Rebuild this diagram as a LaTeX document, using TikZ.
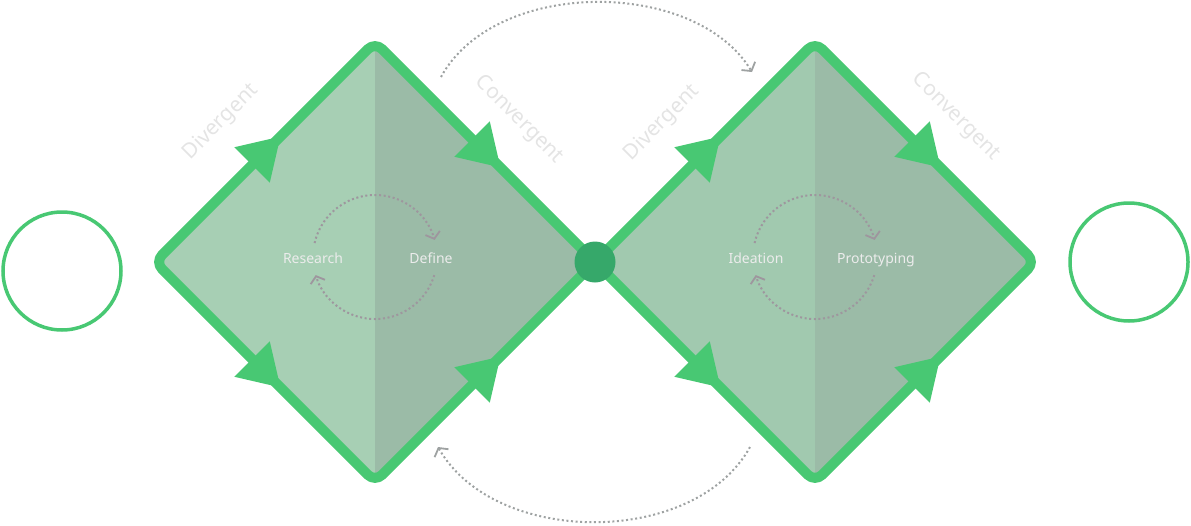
\documentclass[tikz,border=0pt]{standalone}
\usepackage{fontspec}
\setmainfont{Noto Sans}
\usetikzlibrary{calc,arrows.meta}
\definecolor{gline}{RGB}{72,200,115}
\definecolor{gdot}{RGB}{54,168,106}
\definecolor{lfill}{RGB}{167,207,180}
\definecolor{lfillb}{RGB}{161,201,175}
\definecolor{rfill}{RGB}{155,187,167}
\definecolor{dotgray}{RGB}{158,162,162}
\definecolor{cycgray}{RGB}{158,150,158}
\definecolor{lbl}{RGB}{236,236,236}
\definecolor{phasegray}{RGB}{228,228,228}
\begin{document}
\begin{tikzpicture}[x=1pt,y=-1pt,
  diamondline/.style={draw=gline,line width=10pt,rounded corners=10pt,line join=round},
  garrow/.pic={\fill[gline] (0,0) -- (-40,25) -- (-40,-25) -- cycle;},
  phase/.style={text=phasegray,font=\fontsize{21pt}{24pt}\selectfont,inner sep=0pt},
  lbl/.style={text=lbl,font=\fontsize{14pt}{16pt}\selectfont,inner sep=0pt,anchor=base},
  endcircle/.style={draw=gline,line width=3.5pt,circle,minimum size=118pt,inner sep=0pt,
    text=white,font=\bfseries\fontsize{18pt}{28pt}\selectfont,align=center},
  cyc/.style={draw=cycgray,line width=2pt,dash pattern=on 2pt off 2.6pt,
    -{Straight Barb[length=6pt,width=15pt,line width=1.8pt]}},
  bigarc/.style={draw=dotgray,line width=2pt,dash pattern=on 2pt off 2.6pt,
    -{Straight Barb[length=6pt,width=16pt,line width=1.8pt]}}]
\useasboundingbox (0,0) rectangle (1191,525);
% corner coordinates
\coordinate (L1) at (155,262);
\coordinate (T1) at (375,42);
\coordinate (R1) at (595,262);
\coordinate (B1) at (375,482);
\coordinate (T2) at (815,42);
\coordinate (R2) at (1035,262);
\coordinate (B2) at (815,482);
% fills
\begin{scope}
  \clip[rounded corners=10pt] (L1) -- (T1) -- (R1) -- (B1) -- cycle;
  \fill[lfill] (140,30) rectangle (375,495);
  \fill[rfill] (375,30) rectangle (600,495);
\end{scope}
\begin{scope}
  \clip[rounded corners=10pt] (R1) -- (T2) -- (R2) -- (B2) -- cycle;
  \fill[lfillb] (590,30) rectangle (815,495);
  \fill[rfill] (815,30) rectangle (1045,495);
\end{scope}
% outlines
\draw[diamondline] (L1) -- (T1) -- (R1) -- (B1) -- cycle;
\draw[diamondline] (R1) -- (T2) -- (R2) -- (B2) -- cycle;
% arrowheads
\path ($(L1)!0.57!(T1)$) pic[rotate=45] {garrow};
\path ($(T1)!0.57!(R1)$) pic[rotate=-45] {garrow};
\path ($(L1)!0.57!(B1)$) pic[rotate=-45] {garrow};
\path ($(B1)!0.57!(R1)$) pic[rotate=45] {garrow};
\path ($(R1)!0.57!(T2)$) pic[rotate=45] {garrow};
\path ($(T2)!0.57!(R2)$) pic[rotate=-45] {garrow};
\path ($(R1)!0.57!(B2)$) pic[rotate=-45] {garrow};
\path ($(B2)!0.57!(R2)$) pic[rotate=45] {garrow};
% centre dot
\fill[gdot] (R1) circle[radius=20.5];
% inner cycles
\coordinate (c1) at (375,257);
\coordinate (c2) at (815,257);
\draw[cyc] (c1) ++(193:62) arc[start angle=193,end angle=344,radius=62];
\draw[cyc] (c1) ++(17:62) arc[start angle=17,end angle=163,radius=62];
\draw[cyc] (c2) ++(193:62) arc[start angle=193,end angle=344,radius=62];
\draw[cyc] (c2) ++(17:62) arc[start angle=17,end angle=163,radius=62];
\node[lbl] (research) at (313,263) {Research};
\node[lbl] (define) at (431,263) {Define};
\node[lbl] (ideation) at (756,263) {Ideation};
\node[lbl] (proto) at (876,263) {Prototyping};
% phase labels
\node[phase,rotate=45] (div1) at (221,122) {Divergent};
\node[phase,rotate=-45] (con1) at (519,120) {Convergent};
\node[phase,rotate=45] (div2) at (662,123) {Divergent};
\node[phase,rotate=-45] (con2) at (956,117) {Convergent};
% big loops
\coordinate (a1) at (441,77);
\coordinate (a2) at (752,72);
\coordinate (b1) at (750,447);
\coordinate (b2) at (438,447);
\draw[bigarc] (a1) .. controls (495,-22) and (695,-22) .. (a2);
\draw[bigarc] (b1) .. controls (695,547) and (495,547) .. (b2);
% end circles
\node[endcircle] (challenge) at (62,271) {Challenge};
\node[endcircle] (final) at (1129,262) {Final\\Solution};
\end{tikzpicture}
\end{document}
